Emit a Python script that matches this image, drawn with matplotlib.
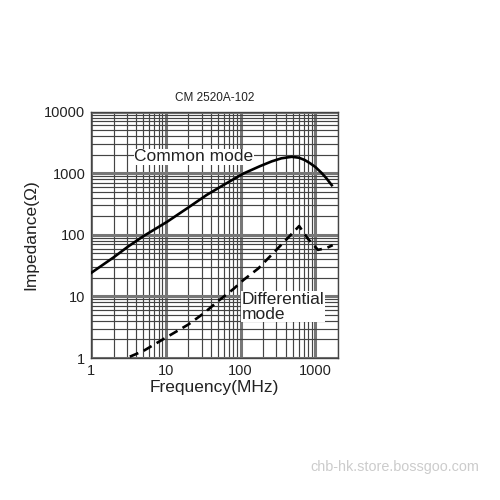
import numpy as np
import matplotlib.pyplot as plt
from matplotlib.ticker import LogLocator, FixedLocator, NullFormatter

plt.rcParams['font.family'] = ['Liberation Sans', 'DejaVu Sans']

# Common mode impedance (MHz, ohm)
cm_freq = [1, 2, 3.1, 5, 10.4, 20, 35, 60, 109, 180, 260, 350, 480, 600, 720, 850, 1000, 1200, 1400, 1650]
cm_imp = [24, 43, 64, 95, 163, 278, 443, 653, 990, 1300, 1560, 1750, 1850, 1790, 1640, 1450, 1260, 1020, 830, 640]

# Differential mode impedance
dm_freq = [3.3, 5, 10.4, 20, 32, 50, 80, 109, 173, 300, 450, 605, 800, 1080, 1400, 1700]
dm_imp = [1.05, 1.3, 2.2, 3.5, 5.3, 8.4, 13.2, 18.5, 28.6, 57, 95, 139, 85, 57, 61, 68]

x_ticks = [1, 10, 100, 1000]
x_labels = ['1', '10', '100', '1000']
y_ticks = [1, 10, 100, 1000, 10000]
y_labels = ['1', '10', '100', '1000', '10000']

fig = plt.figure(figsize=(5, 5), dpi=100)
ax = fig.add_axes([0.182, 0.284, 0.494, 0.4926])
ax.set_xscale('log')
ax.set_yscale('log')
ax.set_xlim(1, 2000)
ax.set_ylim(1, 10000)

# grid like log paper
ax.xaxis.set_major_locator(FixedLocator(x_ticks))
ax.yaxis.set_major_locator(FixedLocator(y_ticks))
ax.xaxis.set_minor_locator(LogLocator(base=10, subs=np.arange(2, 10)))
ax.yaxis.set_minor_locator(LogLocator(base=10, subs=np.arange(2, 10)))
ax.xaxis.set_minor_formatter(NullFormatter())
ax.yaxis.set_minor_formatter(NullFormatter())
ax.set_xticklabels(x_labels)
ax.set_yticklabels(y_labels)
ax.grid(which='major', color='#777777', lw=2.2)
ax.grid(which='minor', color='#444444', lw=0.85)
ax.set_axisbelow(True)
ax.tick_params(which='both', length=0, labelsize=10.5, labelcolor='#222222')
ax.tick_params(axis='x', pad=4)
ax.tick_params(axis='y', pad=4)
for s in ax.spines.values():
    s.set_color('#444444')
    s.set_linewidth(1)

ax.plot(cm_freq, cm_imp, color='black', lw=1.9, zorder=3)
ax.plot(dm_freq, dm_imp, color='black', lw=1.9, ls=(0, (3.5, 2.2)), zorder=3)

ax.text(3.8, 1850, 'Common mode', fontsize=12.5, color='#222222', va='center', ha='left',
        bbox=dict(facecolor='white', edgecolor='none', pad=0.5), zorder=4)
ax.text(103, 6.8, 'Differential\nmode', fontsize=12.5, color='#222222', va='center', ha='left',
        linespacing=1.0, bbox=dict(facecolor='white', edgecolor='none', pad=0.5), zorder=4)

ax.set_title('CM 2520A-102', fontsize=8.5, color='#222222', pad=8)
ax.set_xlabel('Frequency(MHz)', fontsize=12.5, color='#222222', labelpad=2)
ax.set_ylabel('Impedance(Ω)', fontsize=12.5, color='#222222', labelpad=4)

fig.text(0.79, 0.066, 'chb-hk.store.bossgoo.com', fontsize=10.4, color='#cccccc',
         ha='center', va='center')

fig.savefig('out.png', dpi=100, facecolor='white')
